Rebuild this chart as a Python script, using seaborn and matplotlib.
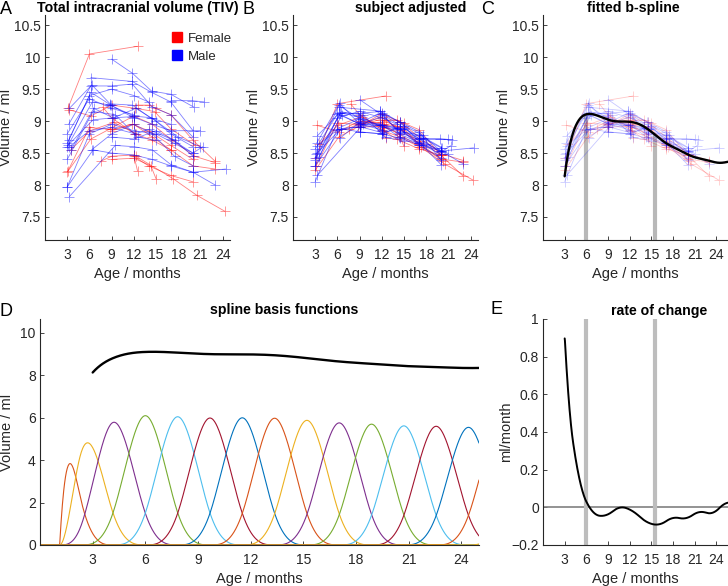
import numpy as np
import pandas as pd
import matplotlib
matplotlib.use("Agg")
import matplotlib.pyplot as plt
from matplotlib.lines import Line2D
from matplotlib.ticker import FuncFormatter
import seaborn as sns

# ---------------- data ----------------
subject_sex = ["Female"] * 12 + ["Male"] * 18
subject_age = [
    [3.1, 6.0, 12.5],
    [3.2, 6.2, 9.0, 12.2, 14.8, 17.0, 20.3],
    [3.0, 6.2, 8.8, 12.0, 14.5, 17.2, 20.2, 23.0],
    [3.1, 6.0, 9.0, 11.8, 14.0, 17.0, 20.0],
    [7.5, 9.0, 12.0, 12.5],
    [9.0, 12.0, 14.3, 15.0],
    [12.0, 14.0, 17.0, 20.0],
    [12.3, 17.3, 20.5, 24.3],
    [7.8, 9.0, 12.2, 14.5, 17.0],
    [12.5, 14.0, 15.0, 17.0, 20.0, 23.0],
    [3.5, 6.1, 9.3, 12.3],
    [9.0, 12.0, 14.5, 17.0, 20.0, 23.0],
    [9.0, 11.8, 14.4, 17.0, 20.1],
    [6.2, 11.8, 14.4, 17.0, 20.0],
    [3.3, 6.2, 9.0, 11.8, 14.5, 17.0, 20.0],
    [3.2, 6.3, 8.8, 11.8, 14.3, 17.0],
    [3.0, 6.0, 9.0, 12.0, 14.0],
    [3.0, 6.4, 8.8, 12.0, 14.5, 17.0, 20.0],
    [3.1, 6.5, 9.0, 11.8, 14.5, 17.0, 21.0],
    [3.0, 6.0, 9.0, 12.0, 15.0, 17.5, 20.0],
    [3.0, 6.5, 9.0, 12.0, 14.5, 17.0, 20.0, 24.4],
    [3.3, 9.5, 12.0, 14.5, 17.0, 20.0, 23.0],
    [3.3, 6.0, 9.0, 12.2, 14.0, 17.0, 20.0, 21.3],
    [17.0, 19.8, 21.5],
    [3.0, 6.0, 9.0, 12.0],
    [3.5, 6.6, 9.2, 12.3, 15.0, 18.0, 21.0],
    [9.0, 12.0, 15.0, 17.5, 20.0],
    [3.2, 6.2, 8.9, 12.0],
    [6.3, 9.0, 12.0, 14.5, 17.5, 20.0],
    [3.0, 6.5, 9.5, 12.5, 15.0],
]
subject_vol = [
    [9.20, 10.05, 10.17],
    [9.18, 9.08, 9.25, 9.20, 9.15, 8.88, 8.62],
    [8.20, 8.72, 8.88, 9.08, 8.95, 8.70, 8.45, 8.35],
    [8.22, 8.90, 8.87, 8.95, 8.85, 8.62, 8.40],
    [8.37, 8.45, 8.47, 8.22],
    [8.40, 8.42, 8.30, 8.10],
    [8.45, 8.30, 8.15, 8.05],
    [8.45, 8.10, 7.84, 7.59],
    [9.22, 9.05, 8.80, 8.70, 8.55],
    [9.25, 9.25, 9.20, 9.10, 8.70, 8.37],
    [8.55, 8.85, 8.98, 8.80],
    [8.85, 8.95, 8.75, 8.55, 8.30, 8.25],
    [9.97, 9.75, 9.47, 9.42, 9.22],
    [9.68, 9.62, 9.45, 9.30, 8.85],
    [9.20, 9.55, 9.55, 9.58, 9.22, 9.10, 8.75],
    [8.95, 9.57, 9.27, 9.25, 9.05, 8.95],
    [8.65, 9.40, 9.50, 9.40, 9.30],
    [8.60, 9.30, 9.25, 9.08, 9.05, 8.80, 8.60],
    [8.62, 9.02, 9.05, 9.07, 8.95, 8.85, 8.85],
    [7.97, 8.80, 8.95, 8.85, 8.80, 8.65, 8.50],
    [7.97, 8.55, 8.50, 8.47, 8.40, 8.30, 8.20, 8.25],
    [7.82, 8.62, 8.60, 8.55, 8.32, 8.20, 8.00],
    [8.60, 8.85, 8.90, 8.80, 8.87, 8.72, 8.50, 8.60],
    [9.32, 9.32, 9.30],
    [8.80, 9.35, 9.20, 9.10],
    [8.55, 9.20, 9.05, 9.20, 9.00, 8.75, 8.60],
    [8.75, 8.72, 8.85, 8.70, 8.45],
    [8.70, 9.45, 9.25, 9.05],
    [8.55, 8.80, 8.95, 8.80, 8.45, 8.30],
    [8.40, 9.15, 9.10, 8.75, 8.70],
]

# cubic B-spline knots and the peak height of each scaled basis function (panel D)
knots = [1.12, 1.12, 1.12, 1.12, 2.32, 4.16, 6.0, 7.84, 9.68, 11.52, 13.36,
         15.2, 17.04, 18.88, 20.72, 22.56, 24.4, 26.24, 28.08, 29.92,
         31.76, 31.76, 31.76, 31.76]
basis_peak = [0.0, 3.84, 4.82, 5.79, 6.10, 6.05, 5.99, 6.00, 5.98, 5.88,
              5.76, 5.70, 5.62, 5.60, 5.55, 5.59, 5.61, 5.61, 5.61, 5.61]
n_basis_shown = 17
change_points = [6.0, 15.5]
age_ticks = [3, 6, 9, 12, 15, 18, 21, 24]

matlab_colors = ["#0072BD", "#D95319", "#EDB120", "#7E2F8E",
                 "#77AC30", "#4DBEEE", "#A2142F"]
sex_palette = {"Female": (1.0, 0.0, 0.0), "Male": (0.0, 0.0, 1.0)}


# ---------------- B-spline evaluation (Cox-de Boor) ----------------
def bspline_basis(x, t, k=3):
    x = np.asarray(x, float)
    t = np.asarray(t, float)
    B = np.zeros((len(x), len(t) - 1))
    for i in range(len(t) - 1):
        B[:, i] = ((t[i] <= x) & (x < t[i + 1])).astype(float)
    for d in range(1, k + 1):
        Bn = np.zeros((len(x), len(t) - 1 - d))
        for i in range(len(t) - 1 - d):
            term = np.zeros(len(x))
            if t[i + d] != t[i]:
                term += (x - t[i]) / (t[i + d] - t[i]) * B[:, i]
            if t[i + d + 1] != t[i + 1]:
                term += (t[i + d + 1] - x) / (t[i + d + 1] - t[i + 1]) * B[:, i + 1]
            Bn[:, i] = term
        B = Bn
    return B


xx = np.linspace(knots[0], knots[-1] - 1e-6, 8001)
bmax = bspline_basis(xx, knots).max(axis=0)
coef = np.array(basis_peak) / bmax


def fit_fn(x):
    return bspline_basis(x, knots) @ coef


# ---------------- tables ----------------
rows = []
for s, (sex, ages, vols) in enumerate(zip(subject_sex, subject_age, subject_vol)):
    ages = np.array(ages)
    vols = np.array(vols)
    n = len(ages)
    # shrunken subject intercept (mixed-model style)
    offset = n / (n + 1.0) * np.mean(vols - fit_fn(ages))
    for a, v in zip(ages, vols):
        rows.append(dict(subject=s, sex=sex, age=a, vol=v, vol_adj=v - offset))
df = pd.DataFrame(rows)

x_d = np.linspace(0, 25, 1001)
Bd = bspline_basis(x_d, knots)
brows = []
for i in range(n_basis_shown):
    for xv, bv in zip(x_d, coef[i] * Bd[:, i]):
        brows.append(dict(x=xv, val=bv, basis="b%02d" % i))
dfb = pd.DataFrame(brows)
basis_palette = {"b%02d" % i: matlab_colors[i % 7] for i in range(n_basis_shown)}

x_fit_d = np.linspace(3, 25, 600)
fit_d = fit_fn(x_fit_d)
x_fit = np.linspace(3, 25.6, 700)
fit = fit_fn(x_fit)
rate = np.gradient(fit, x_fit)

# ---------------- figure ----------------
sns.set_style("white")
plt.rcParams["font.family"] = ["Liberation Sans", "DejaVu Sans"]
plt.rcParams.update({
    "axes.edgecolor": "#262626", "axes.linewidth": 0.8,
    "xtick.direction": "in", "ytick.direction": "in",
    "xtick.color": "#262626", "ytick.color": "#262626",
    "xtick.labelsize": 10, "ytick.labelsize": 10,
    "xtick.major.size": 3, "ytick.major.size": 3,
    "xtick.major.width": 0.6, "ytick.major.width": 0.6,
    "xtick.major.pad": 6, "ytick.major.pad": 3,
    "xtick.bottom": True, "ytick.left": True,
    "axes.labelsize": 10.5, "axes.labelcolor": "#262626",
})

W, H = 728, 586
fig = plt.figure(figsize=(W / 100, H / 100), dpi=100)


def px_axes(left, top, right, bottom):
    return fig.add_axes([left / W, 1 - bottom / H, (right - left) / W, (bottom - top) / H])


axA = px_axes(45, 15, 230, 240)
axB = px_axes(293, 15, 478, 240)
axC = px_axes(543, 15, 728, 240)
axD = px_axes(40, 319, 479, 545)
axE = px_axes(543, 319, 728, 545)

ylim_v = (7.14, 10.66)

line_kw = dict(estimator=None, units="subject", hue="sex", palette=sex_palette,
               hue_order=["Female", "Male"], legend=False, marker="+",
               markersize=7, markeredgewidth=0.55, linewidth=0.6)


def subject_lines(ax, ycol, alpha):
    sns.lineplot(data=df, x="age", y=ycol, ax=ax, alpha=alpha, **line_kw)
    for ln in ax.lines:
        ln.set_markeredgecolor(ln.get_color())


subject_lines(axA, "vol", 0.5)
subject_lines(axB, "vol_adj", 0.5)
subject_lines(axC, "vol_adj", 0.22)

for cp in change_points:
    axC.vlines(cp, ylim_v[0], fit_fn([cp])[0], color="#b8b8b8", lw=3, zorder=1)
sns.lineplot(x=x_fit, y=fit, ax=axC, color="black", lw=1.7, estimator=None)

handles = [Line2D([], [], ls="", marker="s", markersize=7, color=sex_palette[k]) for k in ["Female", "Male"]]
axA.legend(handles, ["Female", "Male"], loc="upper right", bbox_to_anchor=(1.04, 0.945),
           frameon=False, fontsize=9.5, handlelength=0.8, handletextpad=0.4, labelspacing=0.45,
           borderaxespad=0)

for ax in (axA, axB, axC):
    ax.set_ylim(*ylim_v)
    ax.set_yticks([7.5, 8, 8.5, 9, 9.5, 10, 10.5])
    ax.set_yticklabels(["7.5", "8", "8.5", "9", "9.5", "10", "10.5"])
    ax.set_ylabel("Volume / ml")
    ax.yaxis.set_label_coords(-0.175, 0.5)
axA.set_xlim(0, 25)
axB.set_xlim(0, 25)
axC.set_xlim(0, 25.6)

# panel D
sns.lineplot(data=dfb, x="x", y="val", hue="basis", palette=basis_palette,
             estimator=None, legend=False, lw=0.8, ax=axD)
sns.lineplot(x=x_fit_d, y=fit_d, ax=axD, color="black", lw=1.7, estimator=None)
axD.set_xlim(0, 25)
axD.set_ylim(0, 10.66)
axD.set_yticks([0, 2, 4, 6, 8, 10])
axD.set_ylabel("Volume / ml")
axD.yaxis.set_label_coords(-0.06, 0.5)

# panel E
axE.axhline(0, color="#808080", lw=1.2, zorder=1)
for cp in change_points:
    axE.axvline(cp, color="#bdbdbd", lw=3, zorder=1)
sns.lineplot(x=x_fit, y=rate, ax=axE, color="black", lw=1.4, estimator=None)
axE.set_xlim(0, 25.6)
axE.set_ylim(-0.2, 1.0)
axE.set_yticks([-0.2, 0, 0.2, 0.4, 0.6, 0.8, 1.0])
axE.yaxis.set_major_formatter(FuncFormatter(lambda v, p: ("%g" % round(v, 2)).replace("-", "\u2212")))
axE.set_ylabel("ml/month")
axE.yaxis.set_label_coords(-0.16, 0.5)

for ax in (axA, axB, axC, axD, axE):
    ax.set_xticks(age_ticks)
    ax.set_xlabel("Age / months")
    ax.xaxis.set_label_coords(0.5, -0.12)
    ax.xaxis.label.set_va("top")
    for side in ("top", "right"):
        ax.spines[side].set_visible(False)

# titles and panel letters (pixel positions)
titles = [("Total intracranial volume (TIV)", 138, 8), ("subject adjusted", 411, 8),
          ("fitted b-spline", 633, 8), ("spline basis functions", 284, 310),
          ("rate of change", 659, 311)]
for txt, x, y in titles:
    fig.text(x / W, 1 - y / H, txt, ha="center", va="center", fontsize=10.2,
             fontweight="bold", color="black")
letters = [("A", 6, 9), ("B", 248, 9), ("C", 488, 9), ("D", 6, 311), ("E", 497, 310)]
for txt, x, y in letters:
    fig.text(x / W, 1 - y / H, txt, ha="center", va="center", fontsize=13, color="black")

fig.savefig("out.png", dpi=100)
